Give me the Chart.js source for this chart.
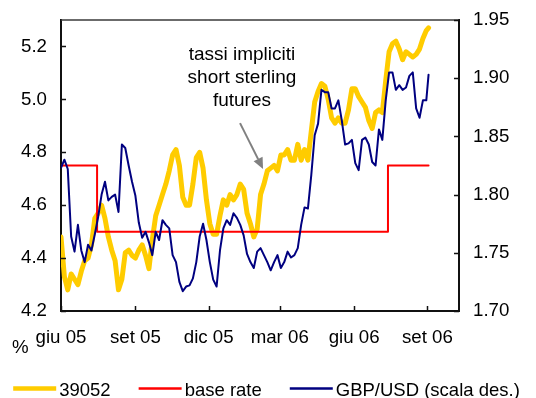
<!DOCTYPE html>
<html>
<head>
<meta charset="utf-8">
<script src="https://cdn.jsdelivr.net/npm/chart.js@4"></script>
<style>
  html, body { margin: 0; padding: 0; background: #fff; }
</style>
</head>
<body>
<canvas id="c" width="536" height="398"></canvas>
<script>
// Trading-day index of each observation (giu 05 = 0)
const dayIdx = [
  0, 3, 6, 9, 12, 15, 18, 21, 24, 27,
  30, 33, 36, 39, 42, 45, 48, 51, 54, 57,
  60, 63, 66, 69, 72, 75, 78, 81, 84, 87,
  90, 93, 96, 99, 102, 105, 108, 111, 114, 117,
  120, 123, 126, 129, 132, 135, 138, 141, 144, 147,
  150, 153, 156, 159, 162, 165, 168, 171, 174, 177,
  180, 183, 186, 189, 192, 195, 198, 201, 204, 207,
  210, 213, 216, 219, 222, 225, 228, 231, 234, 237,
  240, 243, 246, 249, 252, 255, 258, 261, 264, 267,
  270, 273, 276, 279, 282, 285, 288, 291, 294, 297,
  300, 303, 306, 309, 312, 315, 318, 321, 324, 326
];

// Implied rate from the Dec-06 short sterling contract (%)
const impliedRate = [
  4.48, 4.33, 4.28, 4.34, 4.32, 4.30, 4.35, 4.39, 4.40, 4.45,
  4.55, 4.57, 4.60, 4.55, 4.48, 4.43, 4.39, 4.28, 4.32, 4.42,
  4.43, 4.41, 4.40, 4.43, 4.45, 4.41, 4.36, 4.47, 4.56, 4.60,
  4.64, 4.68, 4.73, 4.79, 4.81, 4.75, 4.63, 4.60, 4.60, 4.68,
  4.78, 4.80, 4.74, 4.62, 4.53, 4.49, 4.49, 4.56, 4.62, 4.60,
  4.64, 4.62, 4.64, 4.68, 4.66, 4.57, 4.53, 4.48, 4.51, 4.64,
  4.68, 4.73, 4.74, 4.75, 4.73, 4.79, 4.79, 4.81, 4.77, 4.77,
  4.83, 4.77, 4.81, 4.77, 4.88, 4.99, 5.03, 5.06, 5.05, 5.00,
  4.93, 4.91, 4.93, 4.91, 4.91, 4.96, 5.04, 5.04, 5.01, 4.99,
  4.97, 4.92, 4.89, 4.95, 4.96, 4.95, 5.07, 5.18, 5.21, 5.22,
  5.19, 5.15, 5.18, 5.17, 5.16, 5.17, 5.19, 5.23, 5.26, 5.27
];

// GBP/USD exchange rate (right-hand scale)
const gbpUsd = [
  1.823, 1.830, 1.822, 1.764, 1.751, 1.774, 1.752, 1.742, 1.757, 1.752,
  1.766, 1.781, 1.800, 1.811, 1.795, 1.798, 1.800, 1.785, 1.843, 1.840,
  1.825, 1.811, 1.799, 1.776, 1.763, 1.768, 1.759, 1.748, 1.768, 1.761,
  1.778, 1.774, 1.771, 1.748, 1.742, 1.725, 1.717, 1.721, 1.722, 1.728,
  1.742, 1.764, 1.775, 1.761, 1.742, 1.727, 1.721, 1.752, 1.771, 1.778,
  1.774, 1.784, 1.780, 1.774, 1.765, 1.749, 1.742, 1.737, 1.751, 1.754,
  1.748, 1.742, 1.735, 1.742, 1.748, 1.737, 1.742, 1.751, 1.746, 1.748,
  1.754, 1.774, 1.789, 1.788, 1.817, 1.851, 1.861, 1.890, 1.888, 1.888,
  1.874, 1.874, 1.881, 1.864, 1.843, 1.844, 1.847, 1.827, 1.821, 1.847,
  1.849, 1.843, 1.828, 1.825, 1.856, 1.847, 1.881, 1.905, 1.905, 1.890,
  1.894, 1.890, 1.892, 1.902, 1.905, 1.874, 1.866, 1.881, 1.881, 1.903
];

// Bank of England base rate: value in force from each change date
const baseRateDay = [0, 32, 290, 326];
const baseRate = [4.75, 4.50, 4.75, 4.75];

// Axis ticks
const xTickDay = [0, 66, 131, 194, 260, 325];
const xTickLabel = ['giu 05', 'set 05', 'dic 05', 'mar 06', 'giu 06', 'set 06'];
const leftTicks = [4.2, 4.4, 4.6, 4.8, 5.0, 5.2];
const rightTicks = [1.70, 1.75, 1.80, 1.85, 1.90, 1.95];

const seriesNames = ['39052', 'base rate', 'GBP/USD (scala des.)'];
const noteLines = ['tassi impliciti', 'short sterling', 'futures'];

const FONT = '"Liberation Sans", Arial, Helvetica, sans-serif';
const TICK_SIZE = 18.7;
Chart.defaults.font.family = FONT;
Chart.defaults.font.size = TICK_SIZE;
Chart.defaults.color = '#000';

const pts = (xs, ys) => xs.map((x, i) => ({ x, y: ys[i] }));

// Fixed axis sizes so the plot area keeps its place
const fixWidth = w => s => { s.width = w; s.paddingTop = 0; s.paddingBottom = 0; };

// Frame, inward tick marks, unit label, annotation and legend
const decorations = {
  id: 'decorations',
  afterDraw(chart) {
    const { ctx, chartArea: a, scales } = chart;
    ctx.save();

    // top edge of the plot frame
    ctx.strokeStyle = '#3a3a3a';
    ctx.lineWidth = 1.5;
    ctx.beginPath();
    ctx.moveTo(a.left, a.top);
    ctx.lineTo(a.right, a.top);
    ctx.stroke();

    // tick marks pointing into the plot
    ctx.strokeStyle = '#111';
    ctx.lineWidth = 1.5;
    const TL = 5;
    ctx.beginPath();
    scales.x.ticks.forEach(t => {
      const px = Math.round(scales.x.getPixelForValue(t.value)) + 0.5;
      ctx.moveTo(px, a.bottom);
      ctx.lineTo(px, a.bottom - TL);
    });
    scales.y.ticks.forEach(t => {
      const py = Math.round(scales.y.getPixelForValue(t.value)) + 0.5;
      ctx.moveTo(a.left, py);
      ctx.lineTo(a.left + TL, py);
    });
    scales.y1.ticks.forEach(t => {
      const py = Math.round(scales.y1.getPixelForValue(t.value)) + 0.5;
      ctx.moveTo(a.right, py);
      ctx.lineTo(a.right - TL, py);
    });
    ctx.stroke();

    // unit of the left scale
    ctx.fillStyle = '#000';
    ctx.font = `${TICK_SIZE}px ${FONT}`;
    ctx.textAlign = 'left';
    ctx.textBaseline = 'alphabetic';
    ctx.fillText('%', a.left - 49, a.bottom + 42);

    // annotation text, anchored in data units
    const nx = scales.x.getPixelForValue(160.5);
    const ny = scales.y.getPixelForValue(5.15);
    ctx.font = `19px ${FONT}`;
    ctx.textAlign = 'center';
    noteLines.forEach((t, i) => ctx.fillText(t, nx, ny + i * 23));

    // arrow pointing at the implied-rate line
    const x0 = scales.x.getPixelForValue(158.8), y0 = scales.y.getPixelForValue(4.91);
    const x1 = scales.x.getPixelForValue(179.2), y1 = scales.y.getPixelForValue(4.737);
    const ang = Math.atan2(y1 - y0, x1 - x0);
    const HL = 11, HW = 5;
    const bx = x1 - HL * Math.cos(ang), by = y1 - HL * Math.sin(ang);
    ctx.strokeStyle = '#808080';
    ctx.fillStyle = '#808080';
    ctx.lineWidth = 2;
    ctx.beginPath();
    ctx.moveTo(x0, y0);
    ctx.lineTo(bx, by);
    ctx.stroke();
    ctx.beginPath();
    ctx.moveTo(x1, y1);
    ctx.lineTo(bx + HW * Math.sin(ang), by - HW * Math.cos(ang));
    ctx.lineTo(bx - HW * Math.sin(ang), by + HW * Math.cos(ang));
    ctx.closePath();
    ctx.fill();

    // legend below the axis
    const ds = chart.data.datasets;
    const SAMPLE = 43, GAP = 3, ITEM_GAP = 28, LINE_Y = 388.5, TEXT_Y = 396;
    ctx.font = `18.5px ${FONT}`;
    ctx.textAlign = 'left';
    const widths = ds.map(d => ctx.measureText(d.label).width);
    const total = ds.length * (SAMPLE + GAP) + widths.reduce((s, w) => s + w, 0) + (ds.length - 1) * ITEM_GAP;
    let lx = 266.5 - total / 2;
    ds.forEach((d, i) => {
      ctx.strokeStyle = d.borderColor;
      ctx.lineWidth = d.legendWidth;
      ctx.beginPath();
      ctx.moveTo(lx, LINE_Y);
      ctx.lineTo(lx + SAMPLE, LINE_Y);
      ctx.stroke();
      ctx.fillStyle = '#000';
      ctx.fillText(d.label, lx + SAMPLE + GAP, TEXT_Y);
      lx += SAMPLE + GAP + widths[i] + ITEM_GAP;
    });

    ctx.restore();
  }
};

new Chart(document.getElementById('c'), {
  type: 'line',
  data: {
    datasets: [
      {
        label: seriesNames[0],
        data: pts(dayIdx, impliedRate),
        yAxisID: 'y',
        borderColor: '#FFCC00',
        borderWidth: 5,
        legendWidth: 4.5,
        order: 2
      },
      {
        label: seriesNames[1],
        data: pts(baseRateDay, baseRate),
        yAxisID: 'y',
        borderColor: '#FF0000',
        borderWidth: 2,
        legendWidth: 2.5,
        stepped: 'before',
        order: 1
      },
      {
        label: seriesNames[2],
        data: pts(dayIdx, gbpUsd),
        yAxisID: 'y1',
        borderColor: '#000080',
        borderWidth: 2,
        legendWidth: 2.5,
        order: 0
      }
    ]
  },
  options: {
    responsive: false,
    animation: false,
    devicePixelRatio: 1,
    layout: { padding: { top: 20, left: 0, right: 0, bottom: 0 } },
    elements: {
      point: { radius: 0, hoverRadius: 0 },
      line: { tension: 0, borderJoinStyle: 'round', borderCapStyle: 'round' }
    },
    plugins: {
      legend: { display: false },
      tooltip: { enabled: false }
    },
    scales: {
      x: {
        type: 'linear',
        min: 0,
        max: 353,
        grid: { display: false, drawTicks: false },
        border: { display: true, color: '#111', width: 2 },
        ticks: {
          padding: 16,
          autoSkip: false,
          maxRotation: 0,
          callback: v => {
            const k = xTickDay.indexOf(v);
            return k >= 0 ? xTickLabel[k] : '';
          }
        },
        afterBuildTicks: s => { s.ticks = xTickDay.map(v => ({ value: v })); },
        afterFit: s => { s.height = 87; }
      },
      y: {
        position: 'left',
        min: 4.2,
        max: 5.3,
        grid: { display: false, drawTicks: false },
        border: { display: true, color: '#111', width: 2 },
        ticks: { padding: 14, callback: v => v.toFixed(1) },
        afterBuildTicks: s => { s.ticks = leftTicks.map(v => ({ value: v })); },
        afterFit: fixWidth(61)
      },
      y1: {
        position: 'right',
        min: 1.70,
        max: 1.95,
        grid: { display: false, drawTicks: false },
        border: { display: true, color: '#111', width: 2 },
        ticks: { padding: 14, callback: v => v.toFixed(2) },
        afterBuildTicks: s => { s.ticks = rightTicks.map(v => ({ value: v })); },
        afterFit: fixWidth(77)
      }
    }
  },
  plugins: [decorations]
});
</script>
</body>
</html>
